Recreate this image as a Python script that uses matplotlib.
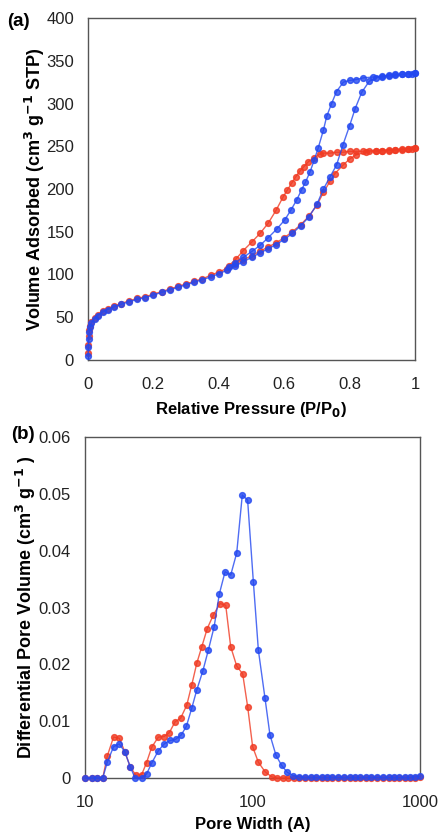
import matplotlib
matplotlib.use("Agg")
import matplotlib.pyplot as plt
from matplotlib.ticker import FixedLocator, FixedFormatter

plt.rcParams['font.family'] = ['Liberation Sans', 'DejaVu Sans']

# ---- (a) isotherm data ----
blue_ads_p = [0.0005, 0.001, 0.002, 0.004, 0.007, 0.01, 0.02, 0.03, 0.045, 0.06, 0.08, 0.1,
              0.125, 0.15, 0.175, 0.2, 0.225, 0.25, 0.275, 0.3, 0.325, 0.35, 0.375, 0.4,
              0.425, 0.45, 0.475, 0.5, 0.525, 0.55, 0.575, 0.6, 0.625, 0.65, 0.675, 0.7,
              0.72, 0.74, 0.76, 0.78, 0.8, 0.817, 0.837, 0.86, 0.88, 0.9, 0.92, 0.94,
              0.96, 0.98, 0.99, 1.0]
blue_ads_v = [5, 15, 25, 33, 39, 43, 48, 52, 56, 59, 62, 65,
              68, 71, 73, 76, 79, 82, 85, 88, 91, 94, 97, 101,
              105, 110, 115, 120, 125, 130, 135, 141, 148, 157, 167, 182,
              200, 214, 228, 252, 274, 294, 313, 326, 330, 331, 332, 333,
              334, 335, 335, 336]
blue_des_p = [1.0, 0.98, 0.96, 0.94, 0.92, 0.9, 0.873, 0.842, 0.82, 0.8, 0.781, 0.76,
              0.745, 0.73, 0.72, 0.704, 0.692, 0.679, 0.665, 0.653, 0.638, 0.62, 0.602,
              0.577, 0.551, 0.526, 0.501, 0.475, 0.45, 0.43]
blue_des_v = [336, 335, 334, 334, 333, 332, 331, 330, 328, 327, 325, 314,
              300, 285, 269, 248, 234, 220, 208, 199, 187, 175, 164,
              153, 143, 134, 127, 120, 114, 109]

red_ads_p = [0.0005, 0.001, 0.002, 0.004, 0.007, 0.01, 0.02, 0.03, 0.045, 0.06, 0.08, 0.1,
             0.125, 0.15, 0.175, 0.2, 0.225, 0.25, 0.275, 0.3, 0.325, 0.35, 0.375, 0.4,
             0.425, 0.45, 0.475, 0.5, 0.525, 0.55, 0.575, 0.6, 0.625, 0.65, 0.675, 0.7,
             0.72, 0.74, 0.755, 0.78, 0.8, 0.82, 0.85, 0.88, 0.9, 0.92, 0.94, 0.96,
             0.98, 0.99, 1.0]
red_ads_v = [8, 18, 28, 35, 40, 44, 49, 53, 57, 60, 63, 66,
             69, 72, 74, 77, 80, 83, 86, 89, 92, 95, 99, 103,
             107, 112, 117, 122, 127, 132, 137, 143, 150, 158, 168, 181,
             196, 209, 218, 228, 235, 240, 243, 244, 245, 245, 246, 246,
             247, 247, 248]
red_des_p = [1.0, 0.98, 0.96, 0.94, 0.92, 0.9, 0.88, 0.86, 0.84, 0.82, 0.8, 0.78,
             0.76, 0.74, 0.72, 0.709, 0.69, 0.674, 0.66, 0.648, 0.635, 0.623, 0.61,
             0.597, 0.575, 0.551, 0.526, 0.501, 0.475, 0.452, 0.43]
red_des_v = [248, 247, 247, 246, 246, 245, 245, 245, 244, 244, 244, 243,
             243, 242, 242, 241, 236, 232, 226, 221, 214, 207, 199,
             191, 175, 160, 148, 138, 128, 118, 110]

# ---- (b) pore size distribution ----
red_w = [10, 10.96, 11.75, 12.76, 13.6, 14.8, 16.0, 17.3, 18.6, 20.1, 21.8, 23.3, 25.0,
         27.4, 29.7, 31.9, 34.5, 37.2, 40.5, 43.4, 46.5, 49.8, 53.7, 58.4, 64.0, 69.2,
         74.1, 80.5, 87.4, 93.6, 100.2, 108.3, 118.8, 130.2, 141, 152, 163, 176, 190,
         205, 222, 240, 260, 280, 300, 325, 350, 380, 410, 440, 475, 510, 550, 600,
         650, 700, 750, 810, 870, 940, 1000]
red_dv = [0, 0, 0, 0, 0.0039, 0.0072, 0.0070, 0.0046, 0.0020, 0.0005, 0.0006, 0.0027,
          0.0054, 0.0072, 0.0073, 0.0080, 0.0099, 0.0105, 0.0128, 0.0164, 0.0202,
          0.0231, 0.0263, 0.0287, 0.0307, 0.0304, 0.0231, 0.0197, 0.0183, 0.0125,
          0.0055, 0.0028, 0.0011, 0.0002, 0, 0, 0, 0, 0, 0, 0, 0, 0, 0, 0, 0, 0, 0,
          0, 0, 0, 0, 0, 0, 0, 0, 0, 0, 0, 0, 0.0001]
blue_w = [10, 10.96, 11.75, 12.76, 13.6, 14.8, 16.0, 17.3, 18.6, 19.9, 21.8, 23.3, 25.0,
          27.4, 29.7, 32.2, 34.7, 37.6, 40.3, 43.4, 46.5, 50.6, 54.6, 59.0, 63.4, 68.6,
          74.1, 80.5, 86.9, 93.5, 101.2, 108.4, 118.8, 127.1, 138.1, 149.3, 161.3,
          175.4, 190, 205, 222, 240, 260, 280, 300, 325, 350, 380, 410, 440, 475, 510,
          550, 600, 650, 700, 750, 810, 870, 940, 1000]
blue_dv = [0, 0, 0, 0, 0.0028, 0.0055, 0.0060, 0.0046, 0.0020, 0, 0, 0.0007, 0.0026,
           0.0048, 0.0060, 0.0066, 0.0068, 0.0076, 0.0091, 0.0123, 0.0155, 0.0189,
           0.0226, 0.0266, 0.0324, 0.0363, 0.0357, 0.0396, 0.0498, 0.0489, 0.0345,
           0.0225, 0.0140, 0.0076, 0.0040, 0.0022, 0.0010, 0.0004, 0.0002, 0.0001,
           0.0001, 0.0001, 0.0001, 0.0001, 0.0001, 0.0001, 0.0001, 0.0001, 0.0001,
           0.0001, 0.0001, 0.0001, 0.0001, 0.0001, 0.0001, 0.0001, 0.0001, 0.0001,
           0.0001, 0.0002, 0.0003]

BLUE = "#2348f0"
RED = "#f03a22"

fig = plt.figure(figsize=(4.4, 8.33), dpi=100)
W, H = 440, 833
ax1 = fig.add_axes([88 / W, 1 - 360 / H, (415 - 88) / W, (360 - 18) / H])
ax2 = fig.add_axes([85 / W, 1 - 778 / H, (420 - 85) / W, (778 - 437) / H])


def draw(ax, x, y, c):
    ax.plot(x, y, "-", color=c, lw=1.0, marker="o", ms=4.2,
            mfc=c, mec=c, alpha=0.8, clip_on=False, zorder=3)


draw(ax1, red_ads_p, red_ads_v, RED)
draw(ax1, red_des_p, red_des_v, RED)
draw(ax1, blue_ads_p, blue_ads_v, BLUE)
draw(ax1, blue_des_p, blue_des_v, BLUE)

ax1.set_xlim(0, 1)
ax1.set_ylim(0, 400)
ax1.xaxis.set_major_locator(FixedLocator([0, 0.2, 0.4, 0.6, 0.8, 1.0]))
ax1.xaxis.set_major_formatter(FixedFormatter(["0", "0.2", "0.4", "0.6", "0.8", "1"]))
ax1.set_yticks(range(0, 401, 50))
ax1.set_xlabel("Relative Pressure (P/P$_\\mathbf{0}$)", fontsize=12, fontweight="bold")
ax1.set_ylabel("Volume Adsorbed (cm$^\\mathbf{3}$ g$^\\mathbf{-1}$ STP)", fontsize=13,
               fontweight="bold")
ax1.xaxis.set_label_coords(0.5, -0.117)
ax1.yaxis.set_label_coords(-0.125, 0.5)

draw(ax2, red_w, red_dv, RED)
draw(ax2, blue_w, blue_dv, BLUE)
ax2.set_xscale("log")
ax2.set_xlim(10, 1000)
ax2.set_ylim(0, 0.06)
ax2.xaxis.set_major_locator(FixedLocator([10, 100, 1000]))
ax2.xaxis.set_major_formatter(FixedFormatter(["10", "100", "1000"]))
ax2.xaxis.set_minor_locator(FixedLocator([]))
ax2.set_yticks([0, 0.01, 0.02, 0.03, 0.04, 0.05, 0.06])
ax2.set_yticklabels(["0", "0.01", "0.02", "0.03", "0.04", "0.05", "0.06"])
ax2.set_xlabel("Pore Width (A)", fontsize=12, fontweight="bold")
ax2.set_ylabel("Differential Pore Volume (cm$^\\mathbf{3}$ g$^\\mathbf{-1}$ )", fontsize=13,
               fontweight="bold")
ax2.xaxis.set_label_coords(0.5, -0.114)
ax2.yaxis.set_label_coords(-0.14, 0.5)

for ax in (ax1, ax2):
    ax.tick_params(axis="x", length=0, labelsize=12, pad=12, colors="#222222")
    ax.tick_params(axis="y", length=0, labelsize=12, pad=10, colors="#222222")
    for s in ax.spines.values():
        s.set_color("#555555")
        s.set_linewidth(1.0)

fig.text(7 / W, 1 - 22 / H, "(a)", fontsize=13.5, fontweight="bold", va="center")
fig.text(11 / W, 1 - 434 / H, "(b)", fontsize=13.5, fontweight="bold", va="center")

fig.savefig("out.png", dpi=100)
